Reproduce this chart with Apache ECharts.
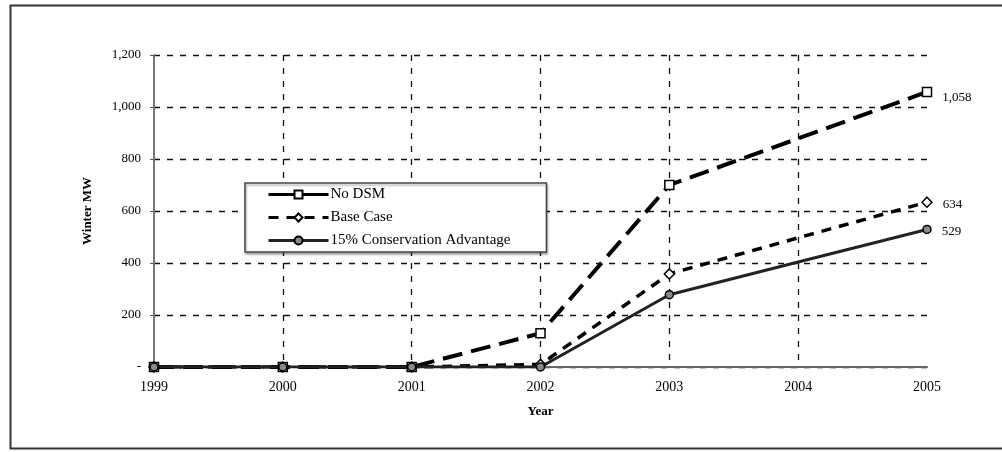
<!DOCTYPE html>
<html>
<head>
<meta charset="utf-8">
<script src="https://cdn.jsdelivr.net/npm/echarts@6/dist/echarts.min.js"></script>
<style>
  html, body { margin: 0; padding: 0; background: #fff; }
  #chart { width: 1002px; height: 452px; }
</style>
</head>
<body>
<div id="chart"></div>
<script>
// Winter MW savings by year for three resource scenarios
const years = ['1999', '2000', '2001', '2002', '2003', '2004', '2005'];
const noDsm = [0, 0, 0, 130, 700, 879, 1058];
const baseCase = [0, 0, 0, 10, 358, 497, 634];
const conservation = [0, 0, 0, 0, 278, 404, 529];
const yTicks = [0, 200, 400, 600, 800, 1000, 1200];
const seriesNames = ['No DSM', 'Base Case', '15% Conservation Advantage'];

const FONT = '"Liberation Serif", "DejaVu Serif", serif';
const INK = '#000';

function fmt(v) {
  return v === 0 ? '-' : v.toLocaleString('en-US');
}

// 2004 is drawn as a plain bend in the line, without a marker
const hiddenMarkerIndex = years.indexOf('2004');
const lastIndex = years.length - 1;

function endLabel(p) {
  return p.dataIndex === lastIndex ? fmt(p.value) : '';
}

function makeSeries(name, data, symbol, size, lineStyle, markerFill, labelDy) {
  return {
    name: name,
    type: 'line',
    data: data,
    symbol: symbol,
    symbolSize: (v, p) => (p.dataIndex === hiddenMarkerIndex ? 0 : size),
    showAllSymbol: true,
    lineStyle: lineStyle,
    itemStyle: { color: markerFill, borderColor: INK, borderWidth: 1.5 },
    label: {
      show: true,
      position: 'right',
      distance: 10,
      offset: [0, labelDy],
      formatter: endLabel,
      fontFamily: FONT,
      fontSize: 13,
      color: INK
    },
    emphasis: { disabled: true },
    animation: false
  };
}

const chart = echarts.init(document.getElementById('chart'), null, { renderer: 'canvas' });

chart.setOption({
  backgroundColor: '#fff',
  animation: false,
  graphic: [{
    type: 'rect',
    shape: { x: 10.5, y: 5.5, width: 1010, height: 443 },
    style: { fill: 'none', stroke: '#333', lineWidth: 2 },
    silent: true
  }],
  grid: { left: 154, right: 75, top: 55, bottom: 85 },
  legend: {
    orient: 'vertical',
    left: 245,
    top: 183,
    padding: [4, 36, 4, 22],
    itemWidth: 60,
    itemHeight: 10,
    itemGap: 8,
    backgroundColor: '#fff',
    borderColor: '#444',
    borderWidth: 1.5,
    shadowColor: 'rgba(0,0,0,0.3)',
    shadowBlur: 2,
    shadowOffsetX: 1,
    shadowOffsetY: 2,
    textStyle: { fontFamily: FONT, fontSize: 15, color: INK, padding: [0, 0, 0, -3] },
    data: [
      { name: seriesNames[0], lineStyle: { type: 'solid', width: 3 } },
      { name: seriesNames[1], lineStyle: { width: 3 } },
      { name: seriesNames[2], lineStyle: { width: 3 } }
    ]
  },
  xAxis: {
    type: 'category',
    data: years,
    boundaryGap: false,
    name: 'Year',
    nameLocation: 'middle',
    nameGap: 38,
    nameTextStyle: { fontFamily: FONT, fontSize: 13, fontWeight: 'bold', color: INK },
    axisLine: { show: true, lineStyle: { color: '#666', width: 2 } },
    axisTick: { show: false },
    axisLabel: { fontFamily: FONT, fontSize: 14, color: INK, margin: 13 },
    splitLine: {
      show: true,
      interval: (i) => i > 0 && i < lastIndex,
      lineStyle: { color: '#111', width: 1.3, type: [6, 7] }
    }
  },
  yAxis: {
    type: 'value',
    min: 0,
    max: 1200,
    interval: 200,
    name: 'Winter MW',
    nameLocation: 'middle',
    nameRotate: 90,
    nameGap: 60,
    nameTextStyle: { fontFamily: FONT, fontSize: 13, fontWeight: 'bold', color: INK },
    axisLine: { show: true, lineStyle: { color: '#777', width: 2 } },
    axisTick: { show: true, inside: false, length: 4, lineStyle: { color: '#555' } },
    axisLabel: {
      fontFamily: FONT, fontSize: 13, color: INK, margin: 13,
      formatter: (v) => (yTicks.indexOf(v) >= 0 ? fmt(v) : '')
    },
    splitLine: {
      show: true,
      lineStyle: { color: '#111', width: 1.3, type: [6, 7] }
    }
  },
  series: [
    makeSeries(seriesNames[0], noDsm, 'rect', 9,
      { color: INK, width: 4, type: [20, 9] }, '#fff', 6),
    makeSeries(seriesNames[1], baseCase, 'diamond', 10,
      { color: INK, width: 3.5, type: [10, 8] }, '#fff', 2),
    makeSeries(seriesNames[2], conservation, 'circle', 8,
      { color: '#222', width: 3 }, '#888', 2)
  ]
});
</script>
</body>
</html>
